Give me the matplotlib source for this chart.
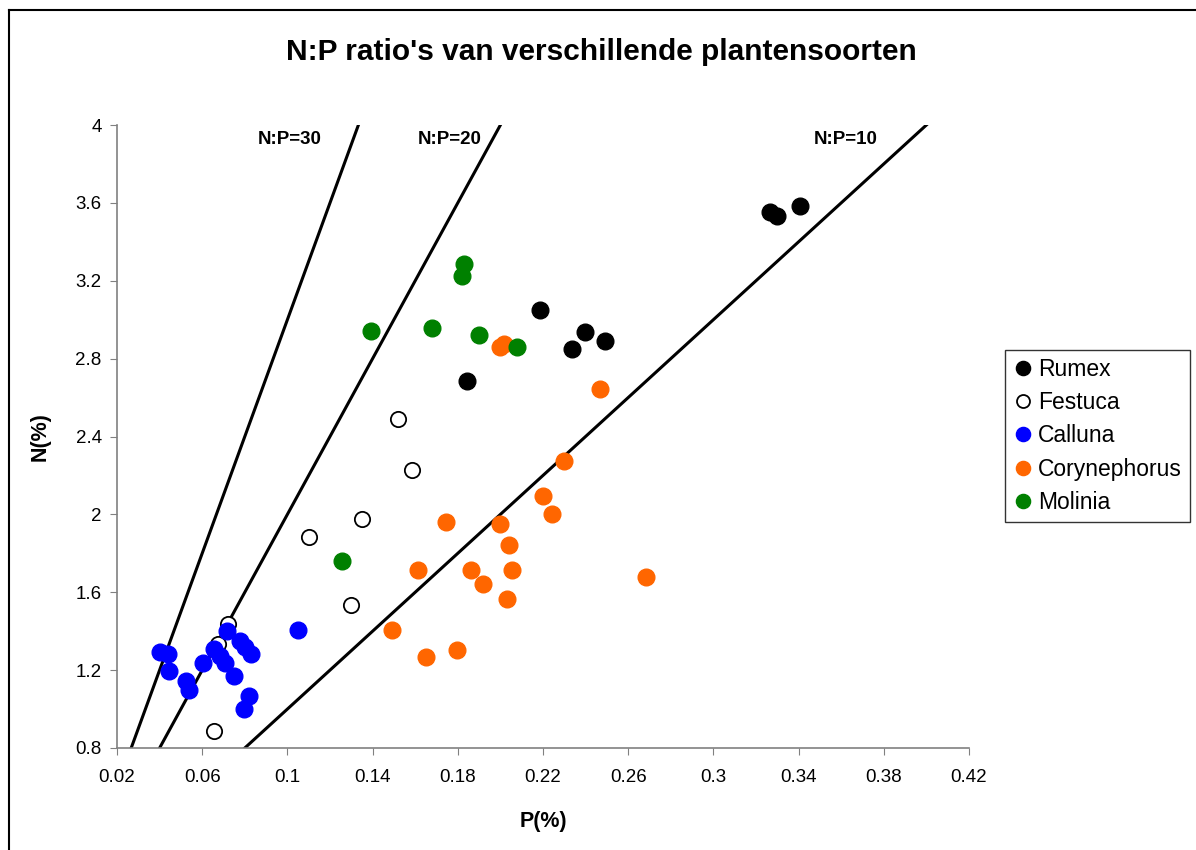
import matplotlib.pyplot as plt
from matplotlib.lines import Line2D

plt.rcParams['font.family'] = ['Liberation Sans', 'DejaVu Sans']

# P(%) and N(%) per species
rumex_p = [0.2186, 0.2397, 0.2336, 0.2491, 0.1843, 0.3266, 0.3299, 0.3407]
rumex_n = [3.050, 2.937, 2.849, 2.891, 2.685, 3.553, 3.533, 3.584]

festuca_p = [0.1519, 0.1585, 0.1350, 0.1101, 0.1299, 0.0721, 0.0674, 0.0655]
festuca_n = [2.490, 2.228, 1.976, 1.884, 1.535, 1.437, 1.334, 0.887]

calluna_p = [0.0402, 0.0439, 0.0444, 0.0524, 0.0538, 0.0604, 0.0655, 0.0716, 0.0684,
             0.0707, 0.0749, 0.0777, 0.0801, 0.0829, 0.0820, 0.0796, 0.1050]
calluna_n = [1.293, 1.283, 1.196, 1.144, 1.098, 1.237, 1.309, 1.401, 1.273,
             1.237, 1.170, 1.350, 1.319, 1.283, 1.067, 1.000, 1.406]

coryne_p = [0.2299, 0.2200, 0.2242, 0.1745, 0.1998, 0.2040, 0.1613, 0.1862, 0.2055,
            0.1918, 0.2031, 0.2684, 0.1491, 0.1651, 0.1796, 0.2468, 0.1998, 0.2017]
coryne_n = [2.274, 2.094, 2.002, 1.961, 1.951, 1.843, 1.714, 1.714, 1.714,
            1.642, 1.565, 1.678, 1.406, 1.267, 1.303, 2.644, 2.860, 2.875]

molinia_p = [0.1829, 0.1820, 0.1392, 0.1679, 0.1900, 0.2078, 0.1256]
molinia_n = [3.286, 3.224, 2.942, 2.957, 2.921, 2.860, 1.761]

ratios = [30, 20, 10]
ratio_labels = ['N:P=30', 'N:P=20', 'N:P=10']
ratio_label_x = [0.1012, 0.1763, 0.3623]

fig = plt.figure(figsize=(11.96, 8.5), dpi=100)
ax = fig.add_axes([117/1196, 1-748/850, (969-117)/1196, (748-125)/850])

# N:P ratio lines
for r in ratios:
    ax.plot([0.0, 0.5], [0.0, 0.5*r], color='black', lw=2.2, zorder=2)

ms = 12
ax.plot(rumex_p, rumex_n, 'o', color='black', ms=ms, label='Rumex', zorder=3)
ax.plot(festuca_p, festuca_n, 'o', mfc='white', mec='black', mew=1.3, ms=ms-1,
        label='Festuca', zorder=3)
ax.plot(calluna_p, calluna_n, 'o', color='#0000ff', ms=ms, label='Calluna', zorder=3)
ax.plot(coryne_p, coryne_n, 'o', color='#ff6600', ms=ms, label='Corynephorus', zorder=3)
ax.plot(molinia_p, molinia_n, 'o', color='#008000', ms=ms, label='Molinia', zorder=3)

for lab, x in zip(ratio_labels, ratio_label_x):
    ax.text(x, 3.928, lab, ha='center', va='center', fontsize=13.5, fontweight='bold')

ax.set_xlim(0.02, 0.42)
ax.set_ylim(0.8, 4.0)
ax.set_xticks([0.02, 0.06, 0.1, 0.14, 0.18, 0.22, 0.26, 0.3, 0.34, 0.38, 0.42])
ax.set_xticklabels(['0.02', '0.06', '0.1', '0.14', '0.18', '0.22', '0.26', '0.3',
                    '0.34', '0.38', '0.42'])
ax.set_yticks([0.8, 1.2, 1.6, 2.0, 2.4, 2.8, 3.2, 3.6, 4.0])
ax.set_yticklabels(['0.8', '1.2', '1.6', '2', '2.4', '2.8', '3.2', '3.6', '4'])
ax.tick_params(axis='both', direction='out', length=5, color='#808080', labelsize=13.5)
ax.tick_params(axis='x', pad=10)
ax.tick_params(axis='y', pad=6)
for s in ['top', 'right']:
    ax.spines[s].set_visible(False)
for s in ['left', 'bottom']:
    ax.spines[s].set_color('#808080')
    ax.spines[s].set_linewidth(1.2)

ax.set_xlabel('P(%)', fontsize=15.5, fontweight='bold', labelpad=18)
ax.set_ylabel('N(%)', fontsize=15.5, fontweight='bold', labelpad=18)

fig.text(0.503, 1-52/850, "N:P ratio's van verschillende plantensoorten",
         ha='center', va='center', fontsize=21.5, fontweight='bold')

leg = ax.legend(loc='center left', bbox_to_anchor=(1005/1196, 1-436/850),
                bbox_transform=fig.transFigure, fontsize=16.5, frameon=True,
                fancybox=False, edgecolor='black', handletextpad=0.2,
                handlelength=0.9, borderpad=0.35, labelspacing=0.45,
                borderaxespad=0, markerscale=0.85)
leg.get_frame().set_linewidth(1.0)

# outer chart border (left and top)
fig.add_artist(Line2D([8.5/1196, 8.5/1196], [0, 1-10/850], color='black', lw=1.5,
                      transform=fig.transFigure))
fig.add_artist(Line2D([8.5/1196, 1], [1-10/850, 1-10/850], color='black', lw=1.5,
                      transform=fig.transFigure))

fig.savefig('out.png', dpi=100)
